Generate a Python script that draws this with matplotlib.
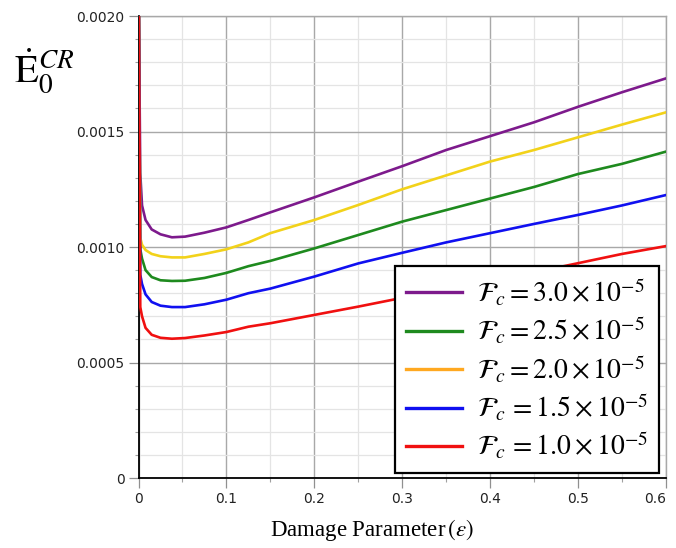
import matplotlib
matplotlib.use("Agg")
import matplotlib.pyplot as plt
from matplotlib.lines import Line2D
from matplotlib.ticker import MultipleLocator, FixedLocator, FixedFormatter

plt.rcParams['mathtext.fontset'] = 'stix'

# ---- data ----
eps = [0.0003, 0.002, 0.004, 0.008, 0.015, 0.025, 0.038, 0.053, 0.075, 0.1,
       0.125, 0.15, 0.2, 0.25, 0.3, 0.35, 0.4, 0.45, 0.5, 0.55, 0.6]

fc_30 = [0.00205, 0.00132, 0.00118, 0.001117, 0.001076, 0.001055, 0.001042, 0.001045,
         0.001062, 0.001085, 0.001117, 0.00115, 0.001215, 0.001283, 0.00135, 0.00142,
         0.00148, 0.00154, 0.001607, 0.00167, 0.00173]
fc_25 = [0.0021, 0.00099, 0.00095, 0.0009, 0.00087, 0.000856, 0.000853, 0.000854,
         0.000866, 0.000888, 0.000917, 0.00094, 0.000994, 0.001052, 0.00111, 0.00116,
         0.00121, 0.00126, 0.001316, 0.00136, 0.001413]
fc_20 = [0.0021, 0.00104, 0.00101, 0.000987, 0.00097, 0.00096, 0.000955, 0.000955,
         0.00097, 0.00099, 0.00102, 0.00106, 0.001117, 0.001182, 0.00125, 0.00131,
         0.00137, 0.00142, 0.001475, 0.00153, 0.001583]
fc_15 = [0.0021, 0.00088, 0.00084, 0.000795, 0.000762, 0.000746, 0.00074, 0.00074,
         0.000752, 0.000772, 0.0008, 0.00082, 0.000872, 0.000929, 0.000975, 0.00102,
         0.00106, 0.0011, 0.001139, 0.00118, 0.001225]
fc_10 = [0.0021, 0.00074, 0.0007, 0.00065, 0.00062, 0.000607, 0.000603, 0.000606,
         0.000617, 0.000632, 0.000655, 0.00067, 0.000706, 0.000742, 0.00078, 0.00082,
         0.00086, 0.00089, 0.00093, 0.00097, 0.001004]

series_labels = [r'$\mathcal{F}_c = 3.0\times10^{-5}$',
                 r'$\mathcal{F}_c = 2.5\times10^{-5}$',
                 r'$\mathcal{F}_c = 2.0\times10^{-5}$',
                 r'$\mathcal{F}_c\,=1.5\times10^{-5}$',
                 r'$\mathcal{F}_c\,=1.0\times10^{-5}$']

x_ticks = [0, 0.1, 0.2, 0.3, 0.4, 0.5, 0.6]
x_tick_labels = ['0', '0.1', '0.2', '0.3', '0.4', '0.5', '0.6']
y_ticks = [0, 0.0005, 0.0010, 0.0015, 0.0020]
y_tick_labels = ['0', '0.0005', '0.0010', '0.0015', '0.0020']

# ---- styles ----
line_colors = ['#7d1a8c', '#1e8a1e', '#f2d21a', '#1010f0', '#f01010']
legend_colors = ['#7d1a8c', '#1e8a1e', '#ffa820', '#1010f0', '#f01010']
series = [fc_30, fc_25, fc_20, fc_15, fc_10]

fig = plt.figure(figsize=(6.76, 5.48), dpi=100)
ax = fig.add_axes([0.2049, 0.1277, 0.7803, 0.8431])

for ys, c in zip(series, line_colors):
    ax.plot(eps, ys, color=c, lw=1.9, solid_joinstyle='round',
            solid_capstyle='round', zorder=3)

ax.set_xlim(0, 0.6)
ax.set_ylim(0, 0.0020)

ax.xaxis.set_major_locator(FixedLocator(x_ticks))
ax.xaxis.set_major_formatter(FixedFormatter(x_tick_labels))
ax.yaxis.set_major_locator(FixedLocator(y_ticks))
ax.yaxis.set_major_formatter(FixedFormatter(y_tick_labels))
ax.xaxis.set_minor_locator(MultipleLocator(0.05))
ax.yaxis.set_minor_locator(MultipleLocator(0.0001))

ax.grid(which='major', color='#a8a8a8', lw=1.0, zorder=0)
ax.grid(which='minor', color='#e4e4e4', lw=0.9, zorder=0)
ax.set_axisbelow(True)

for s in ['top', 'right']:
    ax.spines[s].set_color('#a8a8a8')
    ax.spines[s].set_linewidth(1.0)
for s in ['left', 'bottom']:
    ax.spines[s].set_color('black')
    ax.spines[s].set_linewidth(1.3)

ax.tick_params(which='major', direction='out', length=7, width=0.9,
               color='#909090', labelsize=10, pad=3, labelcolor='#222222')
ax.tick_params(which='minor', direction='out', length=3, width=0.8, color='#a0a0a0')
ax.get_xticklabels()[-1].set_ha('right')

ax.set_xlabel(r'Damage Parameter$\,\left(\varepsilon\right)$', fontsize=16.5,
              family='Liberation Serif')
ax.xaxis.set_label_coords(0.443, -0.112)
ax.xaxis.label.set_va('center')

fig.text(0.02, 0.87, r'$\dot{\mathrm{E}}_0^{CR}$', fontsize=28,
         ha='left', va='center')

handles = [Line2D([], [], color=c, lw=2.4) for c in legend_colors]
leg = ax.legend(handles, series_labels, loc='lower right',
                bbox_to_anchor=(0.987, 0.011), borderaxespad=0,
                fontsize=20, frameon=True, fancybox=False, framealpha=1,
                edgecolor='black', handlelength=2.0, handletextpad=0.55,
                labelspacing=0.26, borderpad=0.4)
leg.get_frame().set_linewidth(1.6)
leg.set_zorder(5)

fig.savefig('out.png', dpi=100)
